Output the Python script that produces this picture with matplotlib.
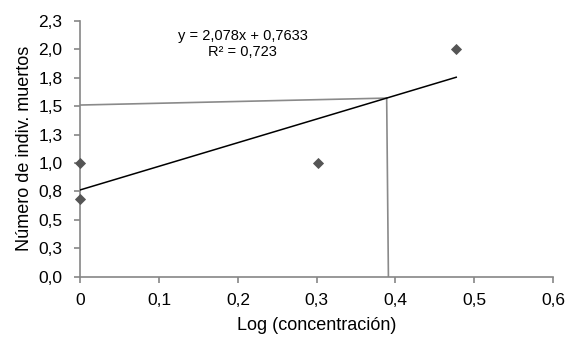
import matplotlib
matplotlib.use("Agg")
import matplotlib.pyplot as plt

plt.rcParams['font.family'] = ['Liberation Sans', 'DejaVu Sans']

# data
log_conc = [0.0, 0.0, 0.30103, 0.47712]
muertos = [1.0, 0.68, 1.0, 2.0]

# trendline shown in the chart
slope = 2.078
intercept = 0.7633
r2 = 0.723

# grey reading lines (hand drawn in the original)
guide_h_x = [0.0, 0.3888]
guide_h_y = [1.51, 1.571]
guide_v_x = [0.3888, 0.391]
guide_v_y = [1.571, 0.0]

xticks = [0.0, 0.1, 0.2, 0.3, 0.4, 0.5, 0.6]
xlabels = ["0", "0,1", "0,2", "0,3", "0,4", "0,5", "0,6"]
yticks = [0.0, 0.25, 0.5, 0.75, 1.0, 1.25, 1.5, 1.75, 2.0, 2.25]
ylabels = ["0,0", "0,3", "0,5", "0,8", "1,0", "1,3", "1,5", "1,8", "2,0", "2,3"]

fig = plt.figure(figsize=(5.77, 3.54), dpi=100)
ax = fig.add_axes([0.1395, 0.2189, 0.9584 - 0.1395, 0.9407 - 0.2189])

axis_col = "#868686"

ax.plot(guide_h_x, guide_h_y, color="#8a8a8a", lw=1.2, zorder=2)
ax.plot(guide_v_x, guide_v_y, color="#8a8a8a", lw=1.2, zorder=2)

tx = [min(log_conc), max(log_conc)]
ty = [slope * v + intercept for v in tx]
ax.plot(tx, ty, color="black", lw=1.1, zorder=3)

ax.plot(log_conc, muertos, linestyle="none", marker="D", ms=5.5, mew=0.6,
        color="#555555", clip_on=False, zorder=4)

ax.set_xlim(0, 0.6)
ax.set_ylim(0, 2.25)
ax.set_xticks(xticks)
ax.set_xticklabels(xlabels)
ax.set_yticks(yticks)
ax.set_yticklabels(ylabels)

for s in ["top", "right"]:
    ax.spines[s].set_visible(False)
for s in ["left", "bottom"]:
    ax.spines[s].set_color(axis_col)
    ax.spines[s].set_linewidth(1.2)

ax.tick_params(axis="both", colors=axis_col, labelcolor="black",
               labelsize=12.5, length=4, width=1.2, direction="out")
ax.tick_params(axis="x", pad=8)
ax.tick_params(axis="y", pad=9)

ax.set_xlabel("Log (concentración)", fontsize=13, labelpad=6)
ax.set_ylabel("Número de indiv. muertos", fontsize=13, labelpad=4)

eq = "y = {:.3f}x + {:.4f}".format(slope, intercept).replace(".", ",")
r2txt = "R² = {:.3f}".format(r2).replace(".", ",")
ax.text(0.206, 2.05, eq + "\n" + r2txt, ha="center", va="center",
        fontsize=10.5, linespacing=1.2)

fig.savefig("out.png", dpi=100)
